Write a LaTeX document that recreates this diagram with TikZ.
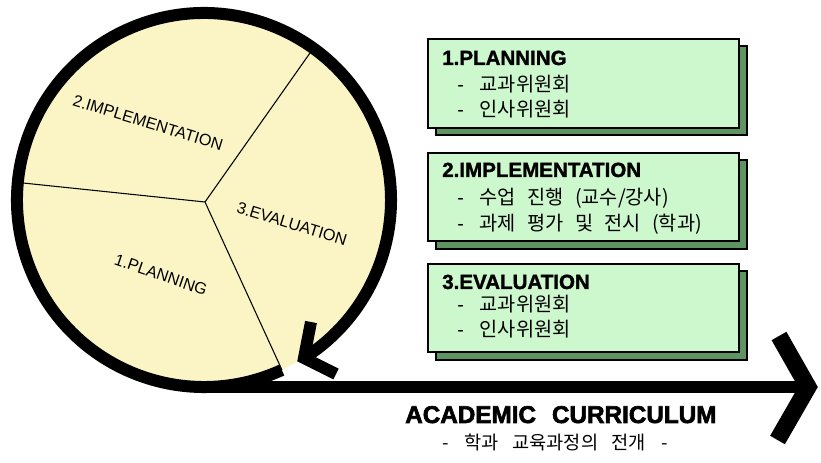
\documentclass[tikz,border=0pt]{standalone}
\usepackage{fontspec}
\setmainfont{Liberation Sans}
\newfontfamily\krfont{Noto Sans CJK KR}
\newfontfamily\headfont[FakeBold=1.5]{Liberation Sans Bold}
\newfontfamily\bigfont[FakeBold=2.5]{Liberation Sans Bold}
\definecolor{pie}{RGB}{251,245,198}
\definecolor{boxfill}{RGB}{205,247,205}
\definecolor{shadowgreen}{RGB}{94,148,98}
\begin{document}
\begin{tikzpicture}[x=0.75pt,y=0.75pt,
  rim/.style={line width=9pt},
  spoke/.style={line width=0.8pt},
  pielabel/.style={inner sep=0pt,font=\fontsize{12.2}{14}\selectfont},
  mainbox/.style={draw=black,line width=1.9pt,fill=boxfill},
  shadowbox/.style={draw=black,line width=1.6pt,fill=shadowgreen},
  boxtitle/.style={anchor=base west,inner sep=0pt,font=\headfont\fontsize{15.4}{18}\selectfont},
  boxitem/.style={anchor=base west,inner sep=0pt,font=\fontsize{14.8}{17}\selectfont},
  chev/.style={line width=9pt,miter limit=10},
  bigchev/.style={line width=12.75pt,miter limit=10}]
\useasboundingbox (0,0) rectangle (821,463);
% pie
\coordinate (C) at (204,263);
\fill[pie] (C) ++(-65.4:187) arc[start angle=-65.4,end angle=-420.1,radius=187] -- cycle;
\coordinate (J) at (205,261);
\coordinate (L) at (23,280);
\coordinate (T) at (310,410);
\coordinate (B) at (282,93);
\draw[spoke] (J) -- (L) (J) -- (T) (J) -- (B);
\node[pielabel,rotate=-17] (impl) at (148,340) {2.IMPLEMENTATION};
\node[pielabel,rotate=-17] (eval) at (292,239) {3.EVALUATION};
\node[pielabel,rotate=-19] (plan) at (161,188) {1.PLANNING};
\draw[rim] (C) ++(-65.4:187) arc[start angle=-65.4,end angle=-418,radius=187];
% small arrow head
\coordinate (a1) at (311,141);
\coordinate (a2) at (304,105);
\coordinate (a3) at (336,89);
\draw[chev] (a1) -- (a2) -- (a3);
% axis
\coordinate (h0) at (204,76);
\coordinate (h1) at (808,76);
\draw[line width=8.5pt] (h0) -- (h1);
\coordinate (b1) at (779,127);
\coordinate (b3) at (777.5,23);
\draw[bigchev] (b1) -- (h1) -- (b3);
% boxes
\draw[shadowbox] (436,417) rectangle (747,328);
\draw[mainbox] (428,424) rectangle (739,335);
\draw[shadowbox] (436,303) rectangle (747,214);
\draw[mainbox] (428,310) rectangle (739,222);
\draw[shadowbox] (436,192) rectangle (747,103);
\draw[mainbox] (428,199) rectangle (739,111);
\node[boxtitle] (t1) at (442,398) {1.PLANNING};
\node[boxitem] (i11) at (457,371) {-\hspace{12pt}{\krfont 교과위원회}};
\node[boxitem] (i12) at (457,346) {-\hspace{12pt}{\krfont 인사위원회}};
\node[boxtitle] (t2) at (442,286) {2.IMPLEMENTATION};
\node[boxitem] (i21) at (457,258) {-\hspace{12pt}{\krfont 수업\hspace{8.5pt}진행\hspace{8.5pt}(교수/강사)}};
\node[boxitem] (i22) at (457,232) {-\hspace{12pt}{\krfont 과제\hspace{8.5pt}평가\hspace{8.5pt}및\hspace{8.5pt}전시\hspace{8.5pt}(학과)}};
\node[boxtitle] (t3) at (442,174) {3.EVALUATION};
\node[boxitem] (i31) at (457,151) {-\hspace{12pt}{\krfont 교과위원회}};
\node[boxitem] (i32) at (457,126) {-\hspace{12pt}{\krfont 인사위원회}};
% caption
\node[anchor=base west,inner sep=0pt,font=\bigfont\fontsize{18.2}{21}\selectfont] (cap) at (405,40) {ACADEMIC\hspace{12pt}CURRICULUM};
\node[anchor=base west,inner sep=0pt,font=\krfont\fontsize{14}{16}\selectfont] (sub) at (442,13) {-\hspace{12pt}학과\hspace{10pt}교육과정의\hspace{10pt}전개\hspace{12pt}-};
\end{tikzpicture}
\end{document}
